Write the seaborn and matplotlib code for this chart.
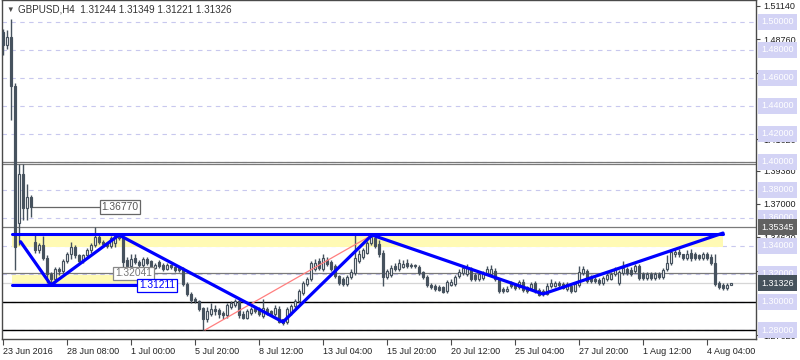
import numpy as np
import pandas as pd
import matplotlib
matplotlib.use("Agg")
import matplotlib.pyplot as plt
import matplotlib.transforms as mtransforms
import seaborn as sns

# GBPUSD H4 candles (open, high, low, close)
opens = [1.4927, 1.4832, 1.4890, 1.4542, 1.3564, 1.3912, 1.3672, 1.3752, 1.3426, 1.3368,
         1.3404, 1.3317, 1.3201, 1.3165, 1.3237, 1.3223, 1.3295, 1.3346, 1.3390, 1.3332,
         1.3295, 1.3332, 1.3368, 1.3404, 1.3462, 1.3426, 1.3411, 1.3397, 1.3420, 1.3477,
         1.3462, 1.3302, 1.3259, 1.3317, 1.3288, 1.3266, 1.3310, 1.3295, 1.3244, 1.3288,
         1.3266, 1.3237, 1.3266, 1.3252, 1.3244, 1.3237, 1.3128, 1.3056, 1.3020, 1.3005,
         1.2955, 1.2882, 1.2911, 1.2947, 1.2940, 1.2918, 1.2904, 1.2962, 1.2976, 1.3005,
         1.2911, 1.2889, 1.2918, 1.2955, 1.2947, 1.2897, 1.2947, 1.2933, 1.2911, 1.2947,
         1.2875, 1.2860, 1.2918, 1.2969, 1.3005, 1.3063, 1.3128, 1.3165, 1.3237, 1.3295,
         1.3237, 1.3302, 1.3288, 1.3259, 1.3186, 1.3165, 1.3128, 1.3179, 1.3208, 1.3295,
         1.3324, 1.3353, 1.3418, 1.3455, 1.3411, 1.3353, 1.3179, 1.3194, 1.3259, 1.3237,
         1.3252, 1.3281, 1.3266, 1.3266, 1.3252, 1.3215, 1.3179, 1.3121, 1.3114, 1.3107,
         1.3107, 1.3078, 1.3121, 1.3128, 1.3186, 1.3208, 1.3201, 1.3237, 1.3194, 1.3165,
         1.3172, 1.3208, 1.3201, 1.3223, 1.3165, 1.3092, 1.3078, 1.3136, 1.3121, 1.3107,
         1.3143, 1.3107, 1.3100, 1.3136, 1.3085, 1.3078, 1.3056, 1.3114, 1.3114, 1.3136,
         1.3128, 1.3092, 1.3114, 1.3078, 1.3121, 1.3208, 1.3223, 1.3179, 1.3165, 1.3157,
         1.3136, 1.3165, 1.3165, 1.3201, 1.3136, 1.3208, 1.3237, 1.3230, 1.3223, 1.3259,
         1.3201, 1.3172, 1.3201, 1.3172, 1.3201, 1.3179, 1.3237, 1.3281, 1.3339, 1.3360,
         1.3339, 1.3317, 1.3353, 1.3346, 1.3332, 1.3317, 1.3346, 1.3324, 1.3281, 1.3136,
         1.3121, 1.3100, 1.31244]
highs = [1.4950, 1.4941, 1.5018, 1.4560, 1.3984, 1.3984, 1.3839, 1.3767, 1.3477, 1.3418,
         1.3469, 1.3332, 1.3215, 1.3252, 1.3252, 1.3310, 1.3360, 1.3426, 1.3404, 1.3346,
         1.3346, 1.3382, 1.3418, 1.3535, 1.3484, 1.3440, 1.3426, 1.3469, 1.3491, 1.3491,
         1.3477, 1.3324, 1.3346, 1.3339, 1.3302, 1.3324, 1.3324, 1.3302, 1.3281, 1.3302,
         1.3281, 1.3281, 1.3273, 1.3259, 1.3252, 1.3252, 1.3143, 1.3070, 1.3034, 1.3012,
         1.2962, 1.2962, 1.2991, 1.2976, 1.2955, 1.2933, 1.2991, 1.3005, 1.3020, 1.3027,
         1.2933, 1.2947, 1.2962, 1.2969, 1.2962, 1.3020, 1.2962, 1.2940, 1.2976, 1.2969,
         1.2882, 1.2962, 1.2984, 1.3020, 1.3092, 1.3150, 1.3179, 1.3295, 1.3310, 1.3317,
         1.3339, 1.3324, 1.3302, 1.3273, 1.3194, 1.3179, 1.3194, 1.3237, 1.3491, 1.3368,
         1.3382, 1.3433, 1.3484, 1.3469, 1.3440, 1.3368, 1.3237, 1.3266, 1.3281, 1.3310,
         1.3302, 1.3310, 1.3281, 1.3273, 1.3266, 1.3223, 1.3194, 1.3136, 1.3128, 1.3121,
         1.3114, 1.3157, 1.3165, 1.3194, 1.3237, 1.3259, 1.3273, 1.3252, 1.3208, 1.3215,
         1.3223, 1.3259, 1.3266, 1.3244, 1.3172, 1.3107, 1.3114, 1.3150, 1.3136, 1.3157,
         1.3165, 1.3114, 1.3143, 1.3150, 1.3100, 1.3092, 1.3136, 1.3165, 1.3150, 1.3150,
         1.3143, 1.3143, 1.3128, 1.3143, 1.3259, 1.3259, 1.3237, 1.3194, 1.3179, 1.3172,
         1.3186, 1.3208, 1.3215, 1.3252, 1.3230, 1.3295, 1.3252, 1.3252, 1.3273, 1.3273,
         1.3215, 1.3215, 1.3215, 1.3215, 1.3215, 1.3244, 1.3332, 1.3375, 1.3382, 1.3375,
         1.3346, 1.3368, 1.3375, 1.3360, 1.3346, 1.3360, 1.3360, 1.3339, 1.3339, 1.3150,
         1.3136, 1.3136, 1.31349]
lows = [1.4760, 1.4803, 1.4296, 1.3228, 1.3404, 1.3585, 1.3585, 1.3607, 1.3353, 1.3353,
        1.3302, 1.3136, 1.3121, 1.3136, 1.3194, 1.3208, 1.3281, 1.3310, 1.3317, 1.3281,
        1.3281, 1.3317, 1.3353, 1.3390, 1.3411, 1.3390, 1.3382, 1.3382, 1.3390, 1.3440,
        1.3228, 1.3237, 1.3244, 1.3273, 1.3252, 1.3252, 1.3266, 1.3230, 1.3237, 1.3244,
        1.3223, 1.3230, 1.3237, 1.3215, 1.3215, 1.3114, 1.3041, 1.2991, 1.2991, 1.2933,
        1.2798, 1.2860, 1.2897, 1.2904, 1.2889, 1.2882, 1.2889, 1.2947, 1.2962, 1.2889,
        1.2875, 1.2875, 1.2904, 1.2918, 1.2897, 1.2889, 1.2904, 1.2897, 1.2897, 1.2853,
        1.2838, 1.2846, 1.2904, 1.2955, 1.2991, 1.3049, 1.3114, 1.3150, 1.3223, 1.3230,
        1.3223, 1.3259, 1.3223, 1.3172, 1.3121, 1.3114, 1.3114, 1.3165, 1.3194, 1.3281,
        1.3310, 1.3339, 1.3404, 1.3382, 1.3324, 1.3114, 1.3165, 1.3179, 1.3223, 1.3223,
        1.3244, 1.3244, 1.3244, 1.3244, 1.3194, 1.3165, 1.3107, 1.3092, 1.3078, 1.3078,
        1.3063, 1.3063, 1.3114, 1.3114, 1.3172, 1.3194, 1.3186, 1.3150, 1.3150, 1.3150,
        1.3157, 1.3194, 1.3186, 1.3150, 1.3063, 1.3063, 1.3070, 1.3100, 1.3085, 1.3092,
        1.3070, 1.3063, 1.3085, 1.3063, 1.3041, 1.3041, 1.3049, 1.3100, 1.3107, 1.3107,
        1.3092, 1.3078, 1.3063, 1.3070, 1.3107, 1.3194, 1.3136, 1.3136, 1.3136, 1.3121,
        1.3121, 1.3150, 1.3157, 1.3186, 1.3121, 1.3194, 1.3194, 1.3186, 1.3208, 1.3157,
        1.3157, 1.3157, 1.3157, 1.3157, 1.3165, 1.3165, 1.3223, 1.3266, 1.3324, 1.3324,
        1.3302, 1.3302, 1.3295, 1.3302, 1.3302, 1.3302, 1.3302, 1.3266, 1.3114, 1.3092,
        1.3085, 1.3085, 1.31221]
closes = [1.4832, 1.4890, 1.4542, 1.3390, 1.3912, 1.3672, 1.3752, 1.3677, 1.3368, 1.3404,
          1.3317, 1.3201, 1.3165, 1.3237, 1.3223, 1.3295, 1.3346, 1.3390, 1.3332, 1.3295,
          1.3332, 1.3368, 1.3404, 1.3462, 1.3426, 1.3411, 1.3397, 1.3455, 1.3477, 1.3455,
          1.3288, 1.3259, 1.3310, 1.3288, 1.3266, 1.3310, 1.3281, 1.3244, 1.3266, 1.3259,
          1.3237, 1.3266, 1.3252, 1.3230, 1.3230, 1.3128, 1.3056, 1.3012, 1.3005, 1.2947,
          1.2882, 1.2933, 1.2947, 1.2933, 1.2911, 1.2904, 1.2976, 1.2991, 1.3005, 1.2904,
          1.2889, 1.2933, 1.2947, 1.2933, 1.2911, 1.2955, 1.2918, 1.2911, 1.2955, 1.2860,
          1.2853, 1.2947, 1.2969, 1.3005, 1.3078, 1.3136, 1.3165, 1.3281, 1.3281, 1.3244,
          1.3317, 1.3273, 1.3237, 1.3186, 1.3136, 1.3128, 1.3179, 1.3215, 1.3317, 1.3346,
          1.3368, 1.3418, 1.3462, 1.3397, 1.3346, 1.3179, 1.3223, 1.3244, 1.3237, 1.3281,
          1.3273, 1.3259, 1.3259, 1.3259, 1.3208, 1.3179, 1.3121, 1.3107, 1.3092, 1.3085,
          1.3070, 1.3143, 1.3143, 1.3179, 1.3215, 1.3244, 1.3244, 1.3165, 1.3165, 1.3201,
          1.3208, 1.3237, 1.3237, 1.3165, 1.3078, 1.3078, 1.3092, 1.3114, 1.3100, 1.3143,
          1.3085, 1.3078, 1.3128, 1.3078, 1.3049, 1.3056, 1.3114, 1.3136, 1.3136, 1.3121,
          1.3100, 1.3128, 1.3078, 1.3128, 1.3215, 1.3237, 1.3150, 1.3150, 1.3150, 1.3136,
          1.3172, 1.3194, 1.3201, 1.3237, 1.3215, 1.3244, 1.3208, 1.3201, 1.3259, 1.3172,
          1.3172, 1.3201, 1.3172, 1.3201, 1.3179, 1.3230, 1.3281, 1.3360, 1.3360, 1.3339,
          1.3317, 1.3346, 1.3317, 1.3317, 1.3317, 1.3346, 1.3317, 1.3281, 1.3128, 1.3107,
          1.3100, 1.3121, 1.31326]

tick_pos = [0, 16, 32, 48, 64, 80, 96, 112, 128, 144, 160, 176]
tick_labels = ["23 Jun 2016", "28 Jun 08:00", "1 Jul 00:00", "5 Jul 20:00", "8 Jul 12:00",
               "13 Jul 04:00", "15 Jul 20:00", "20 Jul 12:00", "25 Jul 04:00",
               "27 Jul 20:00", "1 Aug 12:00", "4 Aug 04:00"]

# price scale labels on the right
scale_ticks = [1.51140, 1.48760, 1.46380, 1.41620, 1.39380, 1.37000, 1.34620, 1.32240, 1.27620]
round_levels = [1.50, 1.48, 1.46, 1.44, 1.42, 1.40, 1.38, 1.36, 1.34, 1.32, 1.30, 1.28]

# drawn objects
zigzag_i = [4.4, 12, 29, 70, 92.25, 135, 180]
zigzag_p = [1.3430, 1.3121, 1.3478, 1.2857, 1.3478, 1.3057, 1.3492]
red_i = [50.5, 92.25]
red_p = [1.2800, 1.3478]
resist_band = (1.3392, 1.3485)
support_band = (1.3121, 1.3193)
prev_close = 1.36770
level_gray = [1.35345, 1.32041]
level_double = [1.4000, 1.3985]
level_black = [1.3000, 1.2800]
last_price = 1.31326

dark = "#46525e"

sns.set_theme(style="white", rc={"axes.edgecolor": "#4a4a4a", "axes.linewidth": 1.0})
plt.rcParams["font.family"] = ["Liberation Sans", "DejaVu Sans"]

fig = plt.figure(figsize=(8, 3.6), dpi=100)
ax = fig.add_axes([2 / 800, 21 / 360, 754 / 800, 339 / 360])
ax.set_xlim(-0.25, 188.25)
ax.set_ylim(1.27358, 1.51555)

# dashed grid
for lvl in round_levels:
    ax.axhline(lvl, color="#c8c8ee", lw=0.8, ls=(0, (4, 4)), zorder=0)

# rectangles
ax.fill_between([2.25, 180], resist_band[0], resist_band[1], color="#fffab4", lw=0, zorder=1)
ax.fill_between([2.25, 33.5], support_band[0], support_band[1], color="#fffab4", lw=0, zorder=1)

# horizontal levels
for lvl in level_gray:
    ax.axhline(lvl, color="#7a7a7a", lw=0.9, zorder=2)
for lvl in level_double:
    ax.axhline(lvl, color="#7a7a7a", lw=0.9, zorder=2)
for lvl in level_black:
    ax.axhline(lvl, color="black", lw=1.0, zorder=2)
ax.axhline(last_price, color="#d6d6d6", lw=0.9, zorder=2)
ax.plot([7.25, 24.5], [prev_close, prev_close], color="#666666", lw=0.9, zorder=2)

# candles
df = pd.DataFrame({"o": opens, "h": highs, "l": lows, "c": closes})
df["i"] = np.arange(len(df))
up = df["c"] >= df["o"]
ax.vlines(df["i"], df["l"], df["h"], color=dark, lw=1.0, zorder=3)
ax.bar(df["i"][up], (df["c"] - df["o"])[up].clip(lower=0.00015), bottom=df["o"][up],
       width=0.62, color="white", edgecolor=dark, lw=0.85, zorder=4)
ax.bar(df["i"][~up], (df["o"] - df["c"])[~up].clip(lower=0.00015), bottom=df["c"][~up],
       width=0.62, color=dark, edgecolor=dark, lw=0.85, zorder=4)

# trend lines
ax.plot([2.25, 180], [resist_band[1], resist_band[1]], color="#0000ff", lw=2.2, zorder=5)
ax.plot([2.25, 33.75], [support_band[0], support_band[0]], color="#0000ff", lw=2.2, zorder=5)
ax.plot(red_i, red_p, color="#ff7f7f", lw=0.9, zorder=5)
sns.lineplot(x=zigzag_i, y=zigzag_p, sort=False, estimator=None, color="#0000ff",
             lw=2.3, ax=ax, zorder=6)

# price labels on chart
ax.text(24.6, prev_close, "1.36770", ha="left", va="center", fontsize=7.4, color="#555555",
        bbox=dict(boxstyle="square,pad=0.18", fc="white", ec="#666666", lw=0.9), zorder=7)
ax.text(28.0, 1.32041, "1.32041", ha="left", va="center", fontsize=7.4, color="#777777",
        bbox=dict(boxstyle="square,pad=0.18", fc="white", ec="#888888", lw=0.9), zorder=7)
ax.text(34.0, 1.3118, "1.31211", ha="left", va="center", fontsize=7.4, color="#0000ff",
        bbox=dict(boxstyle="square,pad=0.18", fc="white", ec="#0000ff", lw=0.9), zorder=7)

# x axis
ax.set_xticks(tick_pos)
ax.set_xticklabels(tick_labels, ha="left", fontsize=6.5, color="#222222")
ax.tick_params(axis="x", bottom=True, length=4, width=0.8, color="#4a4a4a", pad=1.5)

# right price scale
ax.yaxis.tick_right()
ax.set_yticks(scale_ticks)
ax.set_yticklabels([f"{t:.5f}" for t in scale_ticks], fontsize=6.5, color="#222222")
ax.tick_params(axis="y", right=True, left=False, length=3, width=0.8, color="#4a4a4a", pad=2)

trans = mtransforms.blended_transform_factory(ax.transAxes, ax.transData)
xlab = 1.0 + 5 / 754
for lvl in round_levels:
    ax.text(xlab, lvl, f"{lvl:.5f}", transform=trans, ha="left", va="center", fontsize=6.5,
            color="white", clip_on=False, zorder=8,
            bbox=dict(boxstyle="square,pad=0.38", fc="#d3d3f5", ec="none"))
ax.text(xlab, level_gray[0], "1.35345", transform=trans, ha="left", va="center", fontsize=6.5,
        color="white", clip_on=False, zorder=9,
        bbox=dict(boxstyle="square,pad=0.38", fc="#616161", ec="none"))
ax.text(xlab, last_price, "1.31326", transform=trans, ha="left", va="center", fontsize=6.5,
        color="white", clip_on=False, zorder=9,
        bbox=dict(boxstyle="square,pad=0.38", fc="#46525c", ec="none"))

# header
fig.text(6 / 800, 1 - 10 / 360, "\u25bc", fontsize=5.5, color="#4a4a4a", va="center", ha="left")
fig.text(18 / 800, 1 - 10 / 360, "GBPUSD,H4  1.31244 1.31349 1.31221 1.31326",
         fontsize=7.1, color="#333333", va="center", ha="left")

fig.savefig("out.png", dpi=100)
